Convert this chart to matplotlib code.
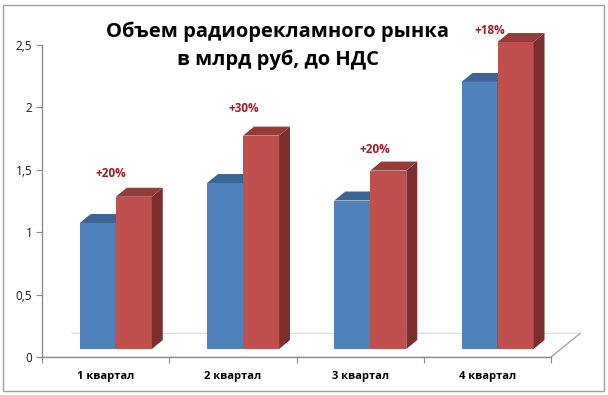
import matplotlib.pyplot as plt
from matplotlib.patches import Polygon, Rectangle
from matplotlib import ticker

# Data
quarters = ['1 квартал', '2 квартал', '3 квартал', '4 квартал']
prev_year = [1.01, 1.33, 1.19, 2.14]
this_year = [1.22, 1.71, 1.43, 2.46]
growth = ['+20%', '+30%', '+20%', '+18%']
y_ticks = [0, 0.5, 1, 1.5, 2, 2.5]

title = 'Объем радиорекламного рынка\nв млрд руб, до НДС'

# 3D look
BAR_W = 0.283
SHIFT = 0.08
DX, DY = 0.086, 0.072
BASE = 0.064
FLOOR_DX, FLOOR_DY = 0.23, 0.19

colors = {
    'prev': ('#4F81BD', '#3A6595', '#2F5079'),
    'this': ('#C0504D', '#953C3A', '#7A2F2D'),
}
# hand-placed growth labels: offset (px) from the red bar's top-left corner
label_offsets = [(-5, 23), (1, 27), (5, 21), (-8, 12)]

plt.rcParams['font.family'] = ['Open Sans', 'DejaVu Sans']

fig = plt.figure(figsize=(6.08, 3.95), dpi=100)
ax = fig.add_axes([42 / 608, (395 - 357) / 395, 509 / 608, (357 - 45) / 395])
ax.set_xlim(0, 4)
ax.set_ylim(0, 2.5)

# floor
fl = Polygon([(0, 0), (4, 0), (4 + FLOOR_DX, FLOOR_DY), (FLOOR_DX, FLOOR_DY)],
             closed=False, facecolor='none', edgecolor='#D9D9D9', lw=0.8,
             clip_on=False, zorder=1)
ax.add_patch(fl)
ax.plot([4, 4 + FLOOR_DX], [0, FLOOR_DY], color='#A6A6A6', lw=0.9, clip_on=False, zorder=1)


def draw_bar(x0, h, cols):
    front, top, side = cols
    x1 = x0 + BAR_W
    y0 = BASE
    y1 = BASE + h
    ax.bar(x0, h, width=BAR_W, bottom=y0, align='edge', color=front,
           linewidth=0, zorder=3, clip_on=False)
    ax.add_patch(Polygon([(x1, y0), (x1 + DX, y0 + DY), (x1 + DX, y1 + DY), (x1, y1)],
                         facecolor=side, edgecolor='none', zorder=3, clip_on=False))
    ax.add_patch(Polygon([(x0, y1), (x1, y1), (x1 + DX, y1 + DY), (x0 + DX, y1 + DY)],
                         facecolor=top, edgecolor='none', zorder=3, clip_on=False))


for i, (a, b) in enumerate(zip(prev_year, this_year)):
    center = i + 0.5 + SHIFT
    draw_bar(center - BAR_W, a, colors['prev'])
    draw_bar(center, b, colors['this'])
    ox, oy = label_offsets[i]
    ax.annotate(growth[i], (center, BASE + b), xytext=(ox * 0.72, oy * 0.72),
                textcoords='offset points', ha='center', va='center',
                fontsize=8.5, fontweight='bold', color='#A31C22', zorder=5,
                annotation_clip=False)

# axes styling
for s in ['top', 'right']:
    ax.spines[s].set_visible(False)
for s in ['left', 'bottom']:
    ax.spines[s].set_color('#868686')
    ax.spines[s].set_linewidth(0.9)

ax.set_yticks(y_ticks)
ax.yaxis.set_major_formatter(ticker.FuncFormatter(lambda v, p: f'{v:g}'.replace('.', ',')))
ax.tick_params(axis='y', length=4, color='#868686', labelsize=8.5, pad=3, labelcolor='#1a1a1a')

ax.set_xticks([0, 1, 2, 3, 4])
ax.set_xticklabels([])
ax.set_xticks([0.5, 1.5, 2.5, 3.5], minor=True)
ax.set_xticklabels(quarters, minor=True, fontsize=8, fontweight='bold')
ax.tick_params(axis='x', which='major', length=4, color='#868686')
ax.tick_params(axis='x', which='minor', length=0, pad=10)

fig.text(278 / 608, 1 - 46 / 395, title, ha='center', va='center',
         fontsize=14.5, fontweight='bold', linespacing=1.5, color='black')

# chart border
fig.add_artist(Rectangle((3 / 608, 1 - 391 / 395), 601 / 608, 386 / 395,
                         transform=fig.transFigure, fill=False,
                         edgecolor='#A0A0A0', lw=1))

fig.savefig('out.png', dpi=100)
